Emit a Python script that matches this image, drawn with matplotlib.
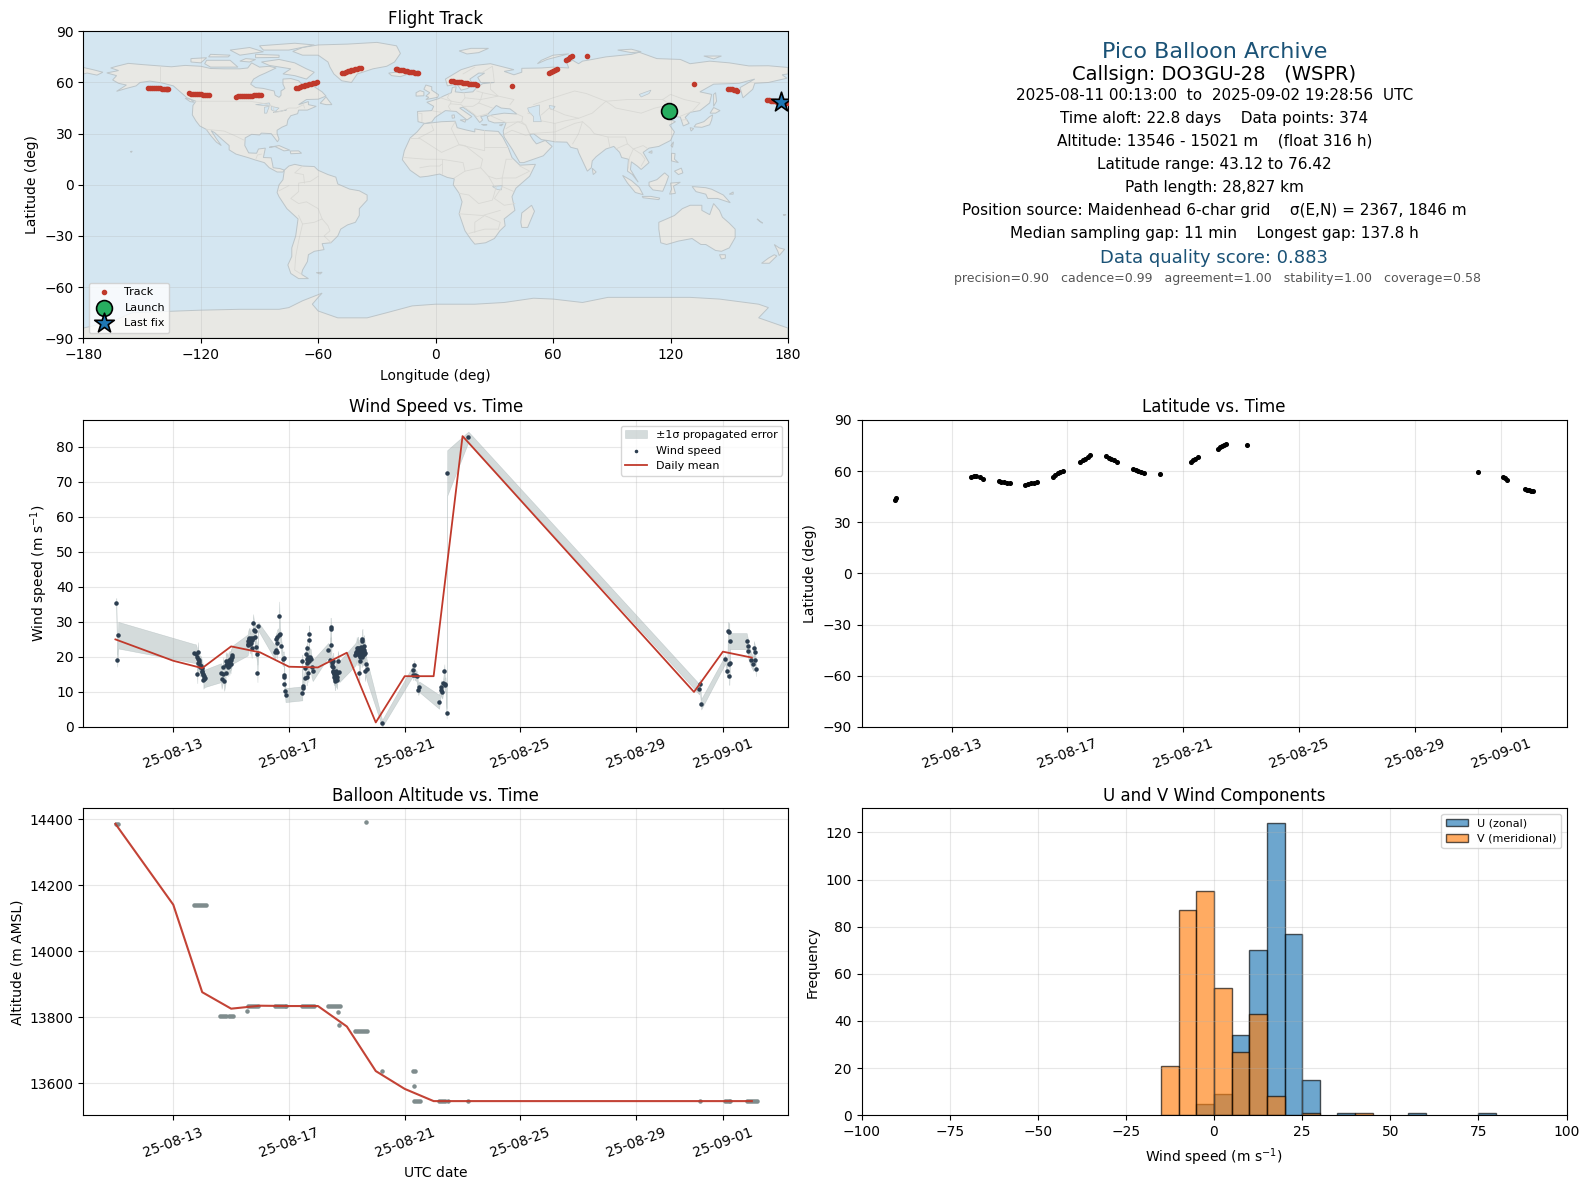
import datetime
import matplotlib
matplotlib.use('Agg')
import matplotlib.pyplot as plt
import matplotlib.dates as mdates
import numpy as np

# all days below are counted from 1 August 2025 (32 = 1 September)

# flight track
track_lon = [-147, -146, -145, -144, -143, -142, -141, -140, -139, -138, -137, -136.5,
             -126, -125, -124, -123, -122, -121, -120, -119, -118, -117, -116,
             -102, -101, -100, -99, -98, -97, -96, -95, -94, -93, -92, -91, -90, -89,
             -71.5, -70.5, -69.5, -68.5, -67.5, -66.5, -65.5, -64.5, -63.5, -62.5, -61.5, -60.5,
             -48, -47, -46, -45, -44, -43, -42, -41, -40, -39, -38,
             -20.5, -19.5, -18.5, -17.5, -16.5, -15.5, -14.5, -13.5, -12.5, -11.5, -10.5, -9.5, -9,
             8, 9, 10, 11, 12, 13, 14, 15, 16, 17, 18, 19, 20, 21,
             38.9,
             58, 59, 60, 61, 62,
             66.5, 67.5, 68.5, 69.5,
             77.3, 132,
             149.5, 150.5, 151.5, 152.5, 153.5, 154.2,
             169.5, 170.5, 171.5, 172.5, 173.5, 174.5, 175.5, 176.5, 177.5, 178.5, 179.5]
track_lat = [56.6, 56.7, 56.7, 56.6, 56.6, 56.5, 56.5, 56.4, 56.3, 56.2, 56.1, 56,
             53.6, 53.5, 53.5, 53.4, 53.2, 53.1, 53, 52.9, 52.8, 52.6, 52.5,
             51.7, 51.8, 51.9, 52, 52.1, 52.1, 52.2, 52.2, 52.3, 52.4, 52.4, 52.5, 52.6, 52.7,
             56.6, 57, 57.4, 57.8, 58.1, 58.4, 58.7, 59, 59.3, 59.6, 59.8, 60,
             65.4, 65.8, 66.2, 66.6, 67, 67.3, 67.6, 67.8, 68, 68.2, 68.3,
             68.1, 67.8, 67.6, 67.3, 67.1, 66.9, 66.7, 66.4, 66.2, 66, 65.8, 65.6, 65.4,
             60.9, 60.7, 60.5, 60.3, 60.2, 60, 59.8, 59.7, 59.5, 59.3, 59.2, 59, 58.9, 58.7,
             57.8,
             65.4, 66, 66.6, 67.2, 67.7,
             73.2, 74, 74.8, 75.4,
             75.3, 59.1,
             56.2, 56.1, 55.9, 55.7, 55.5, 55.2,
             49.7, 49.5, 49.3, 49.1, 48.9, 48.8, 48.6, 48.4, 48.2, 48, 47.8]
launch_lon, launch_lat = 119, 43.3
last_lon, last_lat = 176.5, 48.8

# wind speed, one row per burst of fixes
wind_day = [11.03, 11.06, 11.10,
            13.71, 13.78, 13.81, 13.83, 13.86, 13.86, 13.90, 13.94, 13.98, 14.01, 14.04, 14.04, 14.07, 14.09,
            14.65, 14.67, 14.71, 14.73, 14.76, 14.81, 14.81, 14.84, 14.90, 14.94, 14.96, 14.99, 15.02, 15.04,
            15.57, 15.59, 15.63, 15.65, 15.71, 15.71, 15.76, 15.79, 15.82, 15.83, 15.86, 15.90, 15.91, 15.94,
            16.51, 16.54, 16.55, 16.57, 16.59, 16.59, 16.65, 16.66, 16.69, 16.73, 16.78, 16.82, 16.84, 16.84, 16.84, 16.87, 16.88,
            17.46, 17.46, 17.47, 17.49, 17.54, 17.55, 17.59, 17.61, 17.61, 17.63, 17.67, 17.67, 17.70, 17.70, 17.70, 17.75, 17.78, 17.82,
            18.36, 18.41, 18.44, 18.44, 18.46, 18.47, 18.51, 18.53, 18.53, 18.55, 18.59, 18.59, 18.62, 18.65, 18.67, 18.69, 18.74,
            19.28, 19.34, 19.36, 19.39, 19.43, 19.45, 19.45, 19.47, 19.51, 19.53, 19.54, 19.57, 19.59, 19.62, 19.62, 19.66, 19.68,
            20.22,
            21.30, 21.30, 21.33, 21.35, 21.41, 21.47, 21.50,
            22.19, 22.25, 22.27, 22.30, 22.34, 22.37, 22.39, 22.41, 22.45,
            22.47,
            23.20,
            31.18, 31.20, 31.25,
            32.08, 32.15, 32.18, 32.22, 32.22, 32.22, 32.24, 32.25,
            32.82, 32.86, 32.88, 32.98, 33.05, 33.07, 33.10, 33.12, 33.14,
            # fixes inside the dense parts of the bursts
            13.84, 13.88, 13.92, 13.96, 14.00, 14.03, 14.06,
            14.86, 14.88, 14.92, 14.95, 14.98, 15.00,
            15.58, 15.61, 15.64, 15.67, 15.69, 15.74,
            17.62, 17.65, 17.69, 17.72,
            18.49, 18.52, 18.54, 18.57, 18.58, 18.60, 18.61, 18.63, 18.64, 18.66,
            19.31, 19.33, 19.37, 19.38, 19.41, 19.42, 19.44, 19.46, 19.48, 19.49, 19.50, 19.52, 19.55, 19.56, 19.58, 19.60, 19.61]
wind_speed = [35.3, 19.0, 26.2,
              21.0, 20.9, 20.1, 15.0, 21.5, 18.2, 19.1, 17.7, 16.8, 15.8, 14.9, 13.4, 13.6, 13.9,
              15.5, 13.6, 15.1, 17.2, 13.0, 15.3, 18.7, 17.7, 18.2, 17.5, 19.1, 19.6, 20.1, 20.6,
              23.4, 24.4, 25.3, 24.4, 22.5, 24.9, 29.6, 27.7, 25.8, 27.5, 22.8, 20.9, 15.3, 28.7,
              21.3, 22.0, 25.0, 23.9, 21.5, 25.8, 26.3, 31.6, 26.5, 23.2, 19.4, 19.6, 14.9, 14.2, 12.2, 10.3, 9.1,
              9.6, 18.7, 11.0, 11.8, 13.9, 16.8, 20.9, 14.4, 18.2, 22.5, 15.3, 20.1, 26.5, 24.7, 18.7, 19.3, 17.2, 16.1,
              22.0, 19.1, 28.4, 28.0, 23.3, 18.2, 15.8, 17.2, 18.7, 14.4, 13.0, 14.9, 13.9, 13.4, 15.3, 18.7, 15.8,
              20.6, 22.5, 21.8, 21.5, 15.3, 21.0, 18.7, 22.0, 20.1, 24.4, 25.0, 21.5, 23.2, 21.0, 16.1, 17.9, 16.5,
              1.0,
              16.3, 14.9, 17.6, 14.9, 14.6, 10.6, 11.5,
              7.2, 11.3, 10.6, 10.1, 12.5, 15.9, 12.0, 12.2, 3.9,
              72.5,
              82.8,
              10.8, 12.3, 6.5,
              19.3, 16.1, 27.5, 27.0, 18.0, 14.5, 18.2, 24.5,
              24.5, 23.0, 21.6, 19.1, 18.0, 22.5, 21.5, 19.0, 16.5,
              19.5, 18.5, 17.0, 17.5, 16.0, 15.2, 14.5,
              18.5, 17.2, 19.0, 18.3, 18.0, 19.0,
              23.8, 25.0, 23.8, 25.5, 24.0, 25.5,
              19.5, 18.8, 19.6, 20.0,
              17.5, 16.0, 15.5, 15.0, 13.8, 14.2, 16.0, 14.6, 15.8, 14.2,
              21.0, 21.5, 20.8, 22.6, 20.5, 22.0, 20.0, 22.6, 20.9, 21.5, 22.8, 21.0, 20.5, 22.3, 20.8, 21.5, 22.0]
wind_err = [1.5, 1.8, 3.8,
            2.7, 2.7, 2.7, 2.5, 2.7, 2.7, 2.7, 2.6, 2.6, 2.6, 2.5, 2.5, 2.5, 2.5,
            2.7, 2.7, 2.7, 2.7, 2.7, 2.7, 2.7, 2.7, 2.7, 2.7, 2.7, 2.7, 2.6, 2.6,
            3.0, 3.0, 3.0, 2.8, 2.8, 2.8, 2.6, 2.5, 2.5, 2.5, 2.5, 2.5, 2.5, 1.2,
            2.0, 2.0, 2.0, 2.0, 2.0, 2.0, 2.0, 4.2, 2.0, 2.0, 2.0, 2.0, 2.0, 2.0, 2.0, 2.0, 2.0,
            2.0, 2.0, 2.0, 2.0, 2.0, 2.5, 2.5, 2.5, 2.5, 2.5, 2.5, 2.5, 2.5, 2.5, 3.0, 3.0, 3.0, 3.0,
            2.0, 2.0, 2.8, 2.8, 2.5, 2.5, 2.5, 2.5, 2.5, 2.5, 2.5, 2.5, 2.5, 2.5, 3.0, 3.0, 3.0,
            3.2, 3.2, 3.2, 3.2, 3.0, 3.0, 3.0, 3.0, 3.0, 3.0, 3.0, 3.0, 3.0, 3.0, 3.0, 3.0, 3.0,
            1.0,
            1.5, 1.5, 1.5, 1.5, 1.5, 1.5, 1.5,
            2.0, 2.0, 2.0, 2.0, 2.0, 2.0, 2.0, 2.0, 1.5,
            6.5,
            1.5,
            1.5, 1.5, 1.5,
            1.2, 2.0, 2.5, 2.5, 2.5, 2.5, 2.3, 2.3,
            2.3, 2.3, 2.3, 2.0, 2.0, 2.0, 2.0, 2.0, 2.0,
            2.6, 2.6, 2.6, 2.6, 2.5, 2.5, 2.5,
            2.7, 2.7, 2.7, 2.7, 2.7, 2.7,
            3.0, 3.0, 2.8, 2.8, 2.8, 2.6,
            2.5, 2.5, 2.5, 2.5,
            2.5, 2.5, 2.5, 2.5, 2.5, 2.5, 2.5, 2.5, 2.5, 2.5,
            3.2, 3.2, 3.2, 3.2, 3.0, 3.0, 3.0, 3.0, 3.0, 3.0, 3.0, 3.0, 3.0, 3.0, 3.0, 3.0, 3.0]

mean_day = [11, 13, 14, 15, 16, 17, 18, 19, 20, 21, 22, 23, 31, 32, 33]
mean_wind = [25.0, 18.9, 16.8, 23.0, 21.3, 17.2, 17.0, 21.2, 1.3, 14.5, 14.5, 83.0, 10.0, 21.5, 19.8]
mean_alt = [14386, 14141, 13876, 13826, 13835, 13834, 13834, 13772, 13637, 13583, 13546, 13546, 13546, 13546, 13546]

# latitude
lat_day = [11.05, 11.08,
           13.69, 13.78, 13.86, 13.97, 14.08,
           14.63, 14.72, 14.82, 14.92, 15.02,
           15.53, 15.63, 15.74, 15.85, 15.95,
           16.50, 16.58, 16.67, 16.76, 16.84,
           17.44, 17.53, 17.62, 17.71, 17.80,
           18.34, 18.43, 18.52, 18.62, 18.72,
           19.27, 19.36, 19.46, 19.56, 19.66,
           20.22,
           21.27, 21.35, 21.42, 21.50,
           22.20, 22.27, 22.34, 22.41, 22.47,
           23.20,
           31.20,
           32.06, 32.13, 32.20,
           32.80, 32.88, 32.96, 33.04, 33.10]
lat_deg = [43.2, 44.0,
           56.7, 57.2, 57.3, 56.7, 55.7,
           54.1, 53.9, 53.6, 53.2, 52.8,
           52.0, 52.3, 52.8, 53.2, 53.5,
           56.5, 57.7, 58.7, 59.6, 60.2,
           65.1, 66.3, 67.3, 68.3, 69.2,
           68.6, 67.9, 67.2, 66.4, 65.5,
           61.2, 60.5, 59.9, 59.4, 59.2,
           58.2,
           65.3, 66.4, 67.4, 68.4,
           73.1, 74.1, 74.9, 75.5, 75.8,
           75.2,
           59.4,
           56.5, 55.8, 54.9,
           49.4, 49.2, 48.9, 48.6, 48.3]

# altitude
alt_day = [11.03, 11.08,
           13.72, 13.79, 13.86, 13.93, 14.00, 14.07, 14.12,
           14.63, 14.70, 14.77, 14.84, 14.91, 14.98, 15.05,
           15.56,
           15.58, 15.65, 15.72, 15.79, 15.86, 15.94,
           16.50, 16.57, 16.64, 16.71, 16.78, 16.85, 16.90,
           17.46, 17.53, 17.60, 17.67, 17.74, 17.81, 17.86,
           18.34, 18.41, 18.48, 18.55, 18.62, 18.69, 18.76,
           18.70, 18.74,
           19.27, 19.34, 19.41, 19.48, 19.55, 19.62, 19.69,
           19.67, 20.22, 21.30, 21.35, 21.33,
           21.33, 21.40, 21.47, 21.52,
           22.20, 22.27, 22.34, 22.41, 22.49, 23.20,
           31.20, 32.07, 32.14, 32.20, 32.25,
           32.83, 32.90, 32.97, 33.04, 33.11, 33.18]
alt_m = [14385, 14385,
         14140, 14140, 14140, 14140, 14140, 14140, 14140,
         13803, 13803, 13803, 13803, 13803, 13803, 13803,
         13818,
         13833, 13833, 13833, 13833, 13833, 13833,
         13834, 13834, 13834, 13834, 13834, 13834, 13834,
         13834, 13834, 13834, 13834, 13834, 13834, 13834,
         13834, 13834, 13834, 13834, 13834, 13834, 13834,
         13815, 13776,
         13758, 13758, 13758, 13758, 13758, 13758, 13758,
         14391, 13636, 13636, 13636, 13591,
         13546, 13546, 13546, 13546,
         13546, 13546, 13546, 13546, 13546, 13546,
         13546, 13546, 13546, 13546, 13546,
         13546, 13546, 13546, 13546, 13546, 13546]

# histogram, left bin edge and count
u_bins = [-5, 0, 5, 10, 15, 20, 25, 35, 55, 75]
u_counts = [5, 9, 34, 70, 124, 77, 15, 1, 1, 1]
v_bins = [-15, -10, -5, 0, 5, 10, 15, 25, 40]
v_counts = [21, 87, 95, 54, 27, 43, 8, 1, 1]

date_ticks = [(2025, 8, 13), (2025, 8, 17), (2025, 8, 21), (2025, 8, 25), (2025, 8, 29), (2025, 9, 1)]

# coastlines, lon/lat
north_america = [(-168,65.6),(-164,66.5),(-162,67),(-166,68.5),(-163,69.5),(-157,71.2),(-150,70.5),(-141,69.7),(-135,69.2),(-128,70),(-120,69.5),(-115,68.2),(-108,68),(-100,68),(-96,68.5),(-94,71.5),(-90,69),(-85,69.5),(-81.5,68.5),(-87,65.5),(-90,64),(-93,62),(-94.5,59),(-92,57),(-88,56.5),(-82.5,55),(-82,52.5),(-80,51.3),(-79,52.5),(-79,55),(-77,56.5),(-78,59),(-78,62),(-74,62.3),(-70,61),(-68,58.5),(-65,60),(-62,57.5),(-58,54.5),(-56,52),(-60,50.2),(-66,50),(-70,47),(-65,48.8),(-65,47),(-61,46),(-65.5,43.8),(-70,43.8),(-70.5,41.7),(-74,40.5),(-75.5,38),(-76,35),(-78.5,33.8),(-81,32),(-81,30),(-80,26.8),(-80.8,25.2),(-82.5,27.8),(-84,30),(-89,30.3),(-90,29.2),(-94,29.6),(-97.3,27.5),(-97.5,23),(-95.5,18.7),(-91.5,18.5),(-90.5,21),(-87,21.5),(-88,16),(-84,15.8),(-83.3,12),(-83,10),(-79.5,9.5),(-77.3,8.6),(-78,7.5),(-81,7.5),(-85,10),(-87.5,13),(-92,14.5),(-96,16),(-102,18),(-105.5,20.5),(-105.5,23),(-109,26.5),(-112.8,30.5),(-114.7,31.8),(-112,27),(-109.5,23),(-112,25),(-115,29),(-117.2,32.5),(-120.5,34.5),(-122.5,37.5),(-124.3,41),(-124,46.5),(-122.5,49),(-127,51),(-130.5,54.5),(-134,58),(-140,59.8),(-146,60.8),(-151,60),(-153,58),(-158,56.5),(-163,54.8),(-158,58.5),(-162,59.5),(-165,61.5),(-163,64)]
greenland = [(-73,78.2),(-68,80.5),(-60,82),(-45,82.5),(-30,83.5),(-20,81.5),(-18,77),(-21,72),(-25,69.5),(-32,68),(-40,65),(-43,60),(-48,61),(-52,65),(-54,69),(-55,72),(-60,76),(-68,76)]
south_america = [(-77.3,8.6),(-75,11),(-72,12),(-68,11),(-62,10.7),(-60,8.5),(-55,6),(-51,4.5),(-50,0.5),(-44,-2.5),(-39,-3.5),(-35,-6),(-35,-9),(-39,-14),(-39,-18),(-41,-22),(-45,-23.5),(-48.5,-26),(-50,-30),(-53.5,-34),(-58,-34.5),(-57,-38),(-62,-39),(-65,-41),(-65.5,-45),(-68,-50),(-68.5,-52.5),(-65,-55),(-70,-55),(-74,-52),(-75.5,-47),(-73.5,-42),(-73.5,-37),(-71.5,-30),(-70.3,-20),(-76,-14),(-80,-7),(-81,-4.5),(-80,0),(-78,3),(-77.5,7)]
africa = [(-6,35.8),(3,37),(10,37.3),(11,33.5),(15,32.3),(20,31),(20,32.8),(25,31.8),(32,31.3),(34.3,28),(37,22),(39,16),(43,11.5),(51,12),(48,5),(41,-2),(39,-7),(40.5,-15),(35,-20),(35.5,-24),(32.8,-27),(30,-31.5),(25.5,-34),(20,-34.8),(18,-32),(15,-27),(12,-17),(13.5,-10),(12,-5),(9,0),(9.5,3.5),(6,4.3),(2,6.3),(-4,5),(-8,4.5),(-13,8.5),(-17,14.7),(-16,20),(-13,27.5),(-9.5,31)]
eurasia = [(-9,37),(-9.3,43),(-2,43.5),(-1,46),(-4.5,48.4),(1.5,50.5),(4,52),(8,54),(8.5,57),(10.5,57.5),(10,54.5),(14,54),(19,54.5),(21,57),(24,59.3),(30,60),(23,60),(21.5,63),(25,65.5),(22,65.5),(17.5,62),(18.5,59.5),(16.5,56.5),(13,55.5),(11,59),(6,58),(5,62),(13,67.5),(20,70),(28,71),(40,67.5),(35,66.5),(40,64.5),(44,66),(44,68.3),(54,68.5),(60,69),(68,68.5),(67,71.5),(70,73),(73,71),(75,72.5),(80,73.5),(87,75),(100,76.5),(104,77.7),(113,74),(125,73.5),(130,71),(140,72.5),(150,71.5),(160,69.7),(170,69.8),(178,69),(180,68.8),(180,65),(177,64.5),(179.5,62.5),(170,60),(163,59.5),(162,56),(157,51),(155.5,57),(163,62),(155,59.5),(142,59),(135,54.5),(141,53),(140,48),(135,43.5),(130,42.5),(127.5,39.5),(129.5,36),(126.5,34.5),(125,39.7),(121.5,40),(118,39),(122.5,37),(119.5,35),(122,31),(120,26),(114,22.5),(109,21.5),(106,19),(109,13),(105,9),(103,11),(100,13.5),(99.5,9),(103.5,1.5),(100.5,6),(98,8),(98.5,15),(95,16),(94,19),(91,22.5),(87,21),(82,16.5),(80,14),(79.5,10),(77.5,8),(73,19),(72.5,21),(69,22),(67,25),(61,25.2),(57,26),(54,26.5),(50,30),(48,29.5),(50,26),(51.5,24),(56,26),(59.5,22.5),(55,17),(45,13),(43,13),(39,21),(35,28),(34.5,31.5),(36,36.5),(30,36.3),(27,37.5),(26.3,40),(29,41),(35,42),(41.5,41.5),(38,44.5),(33.5,45),(31,46.5),(28,43),(26,40.7),(23,40),(24,38),(22.5,36.5),(19.5,41),(14,45.5),(12.3,45),(18.5,40),(16,38),(10.5,43),(5,43.5),(3,42),(-0.3,39.5),(-2,36.8),(-5.5,36)]
chukotka = [(-180,68.8),(-175,67.5),(-170,66),(-173,64.3),(-178,65.5),(-180,65)]
australia = [(114,-22),(122,-18),(126,-14),(130,-12),(136,-12),(136,-15),(140,-17.5),(142,-11),(145,-15),(146.5,-19),(150,-22.5),(153,-26),(153,-31),(150,-37),(146,-39),(143,-38.5),(138,-35),(135.5,-35),(131,-31.5),(124,-33),(118,-35),(115,-34),(114,-26)]
antarctica = [(-180,-84),(-165,-80),(-155,-75),(-120,-73.5),(-100,-73),(-80,-73),(-75,-72),(-68,-68),(-58,-63.5),(-60,-66),(-63,-70),(-60,-74),(-50,-78),(-35,-78),(-25,-75),(-12,-71),(0,-70),(20,-70),(35,-69),(50,-66.5),(60,-67),(75,-69),(88,-66),(110,-66),(130,-66),(145,-67),(165,-70),(170,-72),(165,-78),(180,-84),(180,-90),(-180,-90)]
islands = [
    [(-5,50),(1,51.3),(1.5,52.8),(-2,55.5),(-2,57.5),(-5,58.5),(-6,56),(-3,54),(-5,52),(-3.5,51.3)],
    [(-10,52),(-6,52.2),(-6,54.5),(-8,55.2),(-10,54)],
    [(-24,65.5),(-18,66.3),(-14,65),(-18,63.4),(-22.5,64)],
    [(130.5,31.5),(131.8,33),(130,33.5)],
    [(132,34),(136,33.7),(140,35.2),(141,38),(141.5,41),(140,40),(137,37),(133,35.5)],
    [(140.2,42),(143,42),(145.3,43.5),(142,45.3)],
    [(142,46),(143.5,49),(143,54),(142,53)],
    [(44,-25),(47,-25),(50.5,-15.5),(49,-12),(44,-16.5),(43.5,-22)],
    [(173,-41),(174.3,-41.7),(170.5,-46),(166.5,-46),(170,-43)],
    [(173,-35),(175.5,-37),(178.3,-37.8),(175.5,-41.5),(174.8,-39)],
    [(145,-41),(148,-41),(148,-43),(146,-43.5)],
    [(95.5,5.5),(100,2.5),(104,-1.5),(106,-5.8),(102,-4.5),(98,1)],
    [(105.5,-6.8),(110,-6.8),(114.5,-7.8),(114,-8.7),(106,-7.6)],
    [(109,1.5),(113,3),(117,7),(119,5),(117.8,1),(116,-3.8),(111,-3),(109,-0.5)],
    [(119.5,-5.5),(120.5,-2.5),(120,1),(125,1.5),(121.5,-0.8),(122.5,-5)],
    [(131,-1),(138,-1.7),(141,-2.6),(147,-6),(150.5,-10.5),(144,-8),(139,-8),(138,-5.5),(133,-4)],
    [(120.5,18.5),(122.3,18.3),(122,15),(124,13),(120.5,14)],
    [(122,8),(125.5,9.8),(126.3,7),(124,6)],
    [(120.2,23),(121.5,25.2),(121,22)],
    [(108.8,19),(110.5,20),(110.5,18.5)],
    [(80,9.7),(82,7.5),(80.5,6)],
    [(-85,22),(-80,23),(-74.5,20.3),(-77.5,19.9),(-82,22.4)],
    [(-74.3,19.8),(-70,19.9),(-68.5,18.5),(-74,18.2)],
    [(-59,47.8),(-56,51.5),(-53,47),(-56,47)],
    [(-128,50.8),(-125,50),(-123.5,48.4),(-125.5,48.8)],
    [(-80,73.5),(-72,71.5),(-66,68),(-62,66),(-66,62),(-72,64),(-78,65),(-74,68),(-85,70),(-89,72)],
    [(-117,73),(-105,73),(-101,69),(-115,69),(-118,71)],
    [(-125,74),(-117,74.5),(-120,71.5),(-125,72)],
    [(-92,76.5),(-80,76),(-80,74.7),(-92,74.5)],
    [(-88,79),(-75,79),(-62,82),(-72,83),(-90,81.5)],
    [(-105,79),(-95,80.5),(-88,78),(-100,76)],
    [(-115,76.5),(-105,76),(-106,75),(-116,75)],
    [(-97,74),(-92,73.5),(-95,72),(-100,72.5)],
    [(12,78.5),(18,80),(27,80),(22,77.5),(16,76.7)],
    [(52,71),(57,73.5),(68,76.8),(60,76),(54,73)],
    [(93,79),(100,79.5),(105,78),(100,77.5)],
    [(137,75.5),(146,75.5),(142,73.8)],
    [(8.5,39),(9.7,39.3),(9.5,41),(8.3,40.8)],
    [(12.5,38),(15.5,38.2),(15,36.7)],
    [(23.5,35.4),(26.3,35.2),(24.5,34.9)],
    [(32.5,35),(34.5,35.6),(33.5,34.6)],
    [(-61,-51.5),(-58,-51.3),(-59,-52.3)],
    [(-156,19.5),(-155,19.7),(-155.5,19)],
    [(165,-21),(167,-22.5),(164.2,-20)],
    [(178,-18),(179,-17.5),(177.5,-17.5)],
    [(150,-5.5),(152,-4.2),(152,-5.5)],
]
lakes = [
    [(47,45),(53,46.8),(53,42),(54,37),(50,37),(50,40),(47.5,43)],
    [(-92,47),(-85,48),(-84.5,46.5),(-88,46.5)],
    [(-87.5,45.5),(-85,46),(-86.3,42),(-87.5,42)],
    [(-84,46),(-80,45),(-82,43),(-84,44)],
    [(-83,42.5),(-79,43),(-76,44),(-79.5,43.2)],
    [(58,46.5),(61,46),(60,44),(58.5,44.5)],
    [(29,-1),(34,-0.5),(33.5,-3),(31.5,-2.8)],
    [(104,53),(110,55.5),(109,53.5),(105,51.5)],
]
borders = [
    [(-141,69.7),(-141,60)],
    [(-123,49),(-95,49),(-89,48),(-83,46),(-82.5,42.5),(-79,43),(-75,45),(-71,45),(-67.5,47),(-67,45)],
    [(-117,32.5),(-108,31.5),(-103,29),(-97.5,26)],
    [(-92,14.7),(-91,17.5),(-89,18)],
    [(-70,-18),(-68,-23),(-70,-33),(-71.5,-42),(-72,-50),(-68.5,-52.5)],
    [(-60,5),(-64,2),(-70,1),(-70,-4),(-74,-8),(-70,-11),(-66,-10),(-60,-14),(-58,-20),(-55,-24),(-54,-27),(-57,-30),(-53.5,-33.8)],
    [(-68,11),(-72,7),(-67.5,6),(-67,1)],
    [(-75,-0.5),(-80,-3.5)],
    [(-58,-20),(-62,-22),(-68,-23)],
    [(-8.5,27.5),(-13,27.5)],
    [(-8.5,27.5),(3,19),(12,23.5),(25,20),(25,31.8)],
    [(25,22),(37,22)],
    [(-2,35),(-1,32),(-8.5,27.5)],
    [(10,37),(8,33),(12,23.5),(15,23),(24,15),(23,10),(27,5),(31,3.5),(34,4),(36,15),(39,15)],
    [(-16,16),(-5,15),(3,15),(14,13),(15,8),(9.5,4)],
    [(3,15),(3,6.3)],
    [(-8,10),(-3,11),(2,11),(3,12)],
    [(15,8),(23,10)],
    [(34,4),(41,4),(48,8),(43,11)],
    [(34,4),(34,-1),(40,-4)],
    [(30,-1),(27,5)],
    [(12,-5),(17,-6),(22,-11),(29,-9),(31,-1)],
    [(34,-1),(30,-8),(35,-12),(40.5,-11)],
    [(12,-17),(24,-18),(33,-15)],
    [(20,-28),(20,-22),(25,-18),(33,-22),(32,-26)],
    [(17,-28.5),(25,-26),(32,-26)],
    [(-1.5,43.3),(3,42.5)],
    [(-9,42),(-7,41.8),(-7,37)],
    [(2.5,51),(8,49),(7.5,47.5),(6.5,46),(7.5,44)],
    [(7,53.5),(6,51),(8,49),(13,48),(15,51),(14.5,54)],
    [(15,51),(23,50),(24,54),(21,55)],
    [(7.5,47.5),(13,47),(14,46),(19,46),(22,48),(23,50),(32,52),(40,50),(38,47)],
    [(14,46),(19,42),(21,40),(26,41.5)],
    [(22,48),(29,45)],
    [(24,54),(32,52),(28,56),(28,60)],
    [(24,66),(29,69.5),(30,60)],
    [(14,65),(20,69)],
    [(26,41.5),(36,36.5),(44,37),(44.5,40),(41.5,41.5)],
    [(36,33),(42,37),(46,35),(48,30)],
    [(34.9,29.5),(39,32),(46,29),(48,29.5)],
    [(44,37),(46,35),(48,30),(61,31),(61,36),(54,37.5)],
    [(61,25),(61,31),(71,36),(75,37),(73,30),(70,24)],
    [(47,42),(49,41.5)],
    [(50,47),(60,51),(71,55),(77,53.5),(87,49),(98,50),(106,50),(116,50),(120,53),(127,50),(135,48),(131,43)],
    [(54,41),(58,45),(66,41),(73,39),(80,42),(87,49)],
    [(61,36),(66,37.5),(73,39)],
    [(87,49),(92,45),(105,42),(112,45),(120,47),(116,50)],
    [(75,37),(79,33),(81,30),(88,28),(97,28),(98,24),(101,21),(106,23),(108,21.5)],
    [(88,28),(89,22)],
    [(92,21),(98,24)],
    [(98.5,10),(99,16),(101,21),(105,18),(107,15),(105,11)],
    [(124.5,40),(130,42.5)],
    [(126,38),(128.5,38.3)],
]

W, H = 1590.0, 1189.0


def aug(days):
    # day numbers to matplotlib dates
    base = mdates.date2num(datetime.datetime(2025, 8, 1))
    return base + np.array(days, dtype=float) - 1


def box(left, top, right, bottom):
    return fig.add_axes([left / W, 1 - bottom / H, (right - left) / W, (bottom - top) / H])


def date_axis(ax):
    ax.set_xlim(aug(9.89), aug(34.25))
    ax.set_xticks([mdates.date2num(datetime.datetime(*d)) for d in date_ticks])
    ax.xaxis.set_major_formatter(mdates.DateFormatter('%y-%m-%d'))
    ax.tick_params(axis='x', labelrotation=20)
    ax.grid(True, alpha=0.3)


fig = plt.figure(figsize=(W / 100, H / 100), dpi=100)

L1, R1, L2, R2 = 83.3, 788, 861.5, 1566.5

# map
ax = box(L1, 31.3, R1, 338.3)
ax.set_facecolor('#d4e6f1')
land_color = '#e8e8e4'
coast_color = '#bcc5c9'
for poly in [north_america, greenland, south_america, africa, eurasia, chukotka, australia, antarctica] + islands:
    xy = np.array(poly)
    ax.fill(xy[:, 0], xy[:, 1], facecolor=land_color, edgecolor=coast_color, linewidth=0.7, zorder=1)
for poly in lakes:
    xy = np.array(poly)
    ax.fill(xy[:, 0], xy[:, 1], facecolor='#d4e6f1', edgecolor=coast_color, linewidth=0.5, zorder=1.1)
for line in borders:
    xy = np.array(line)
    ax.plot(xy[:, 0], xy[:, 1], color='#d9d9d5', linewidth=0.6, zorder=1.2)
ax.scatter(track_lon, track_lat, s=9, color='#c0392b', zorder=3, label='Track')
ax.scatter([launch_lon], [launch_lat], s=130, color='#27ae60', edgecolor='black', linewidth=1.2, zorder=4, label='Launch')
ax.scatter([last_lon], [last_lat], s=220, marker='*', color='#1f77b4', edgecolor='black', linewidth=1.2, zorder=4, label='Last fix')
ax.set_xlim(-180, 180)
ax.set_ylim(-90, 90)
ax.set_xticks(range(-180, 181, 60))
ax.set_yticks(range(-90, 91, 30))
ax.grid(True, alpha=0.3, linewidth=0.6)
ax.set_xlabel('Longitude (deg)', labelpad=5)
ax.set_ylabel('Latitude (deg)')
ax.set_title('Flight Track', fontsize=12, pad=5)
ax.legend(loc='lower left', fontsize=8)

# text block
info = [(51.5, 1214.5, 'Pico Balloon Archive', 16, '#1a5276'),
        (74.8, 1214.5, 'Callsign: DO3GU-28   (WSPR)', 14, 'black'),
        (95.5, 1214.5, '2025-08-11 00:13:00  to  2025-09-02 19:28:56  UTC', 11, 'black'),
        (118.5, 1214.5, 'Time aloft: 22.8 days    Data points: 374', 11, 'black'),
        (141.5, 1214.5, 'Altitude: 13546 - 15021 m    (float 316 h)', 11, 'black'),
        (164.5, 1214.5, 'Latitude range: 43.12 to 76.42', 11, 'black'),
        (187.5, 1214.5, 'Path length: 28,827 km', 11, 'black'),
        (210.5, 1214.5, 'Position source: Maidenhead 6-char grid    σ(E,N) = 2367, 1846 m', 11, 'black'),
        (233.5, 1214.5, 'Median sampling gap: 11 min    Longest gap: 137.8 h', 11, 'black'),
        (258, 1214.5, 'Data quality score: 0.883', 13, '#1a5276'),
        (278.5, 1218, 'precision=0.90   cadence=0.99   agreement=1.00   stability=1.00   coverage=0.58', 9, '#555555')]
for y, x, txt, size, col in info:
    fig.text(x / W, 1 - y / H, txt, fontsize=size, color=col, ha='center', va='center')

# wind speed
ax = box(L1, 420, R1, 727)
order = np.argsort(wind_day, kind='stable')
wd = aug(wind_day)[order]
ws = np.array(wind_speed)[order]
we = np.array(wind_err)[order]
ax.fill_between(wd, ws - we, ws + we, color='#95a5a6', alpha=0.4, linewidth=0.4, label='±1σ propagated error')
ax.scatter(wd, ws, s=5, color='#2c3e50', label='Wind speed', zorder=3)
ax.plot(aug(mean_day), mean_wind, color='#c0392b', linewidth=1.3, label='Daily mean', zorder=4)
date_axis(ax)
ax.set_ylim(0, 87.6)
ax.set_ylabel('Wind speed (m s$^{-1}$)')
ax.set_title('Wind Speed vs. Time', fontsize=12)
ax.legend(loc='upper right', fontsize=8, markerscale=0.7)

# latitude
ax = box(L2, 420, R2, 727)
ax.scatter(aug(lat_day), lat_deg, s=7, color='black', zorder=3)
date_axis(ax)
ax.set_ylim(-90, 90)
ax.set_yticks(range(-90, 91, 30))
ax.set_ylabel('Latitude (deg)')
ax.set_title('Latitude vs. Time', fontsize=12)

# altitude
ax = box(L1, 808.3, R1, 1115.3)
ax.scatter(aug(alt_day), alt_m, s=5, color='#7f8c8d', zorder=3)
ax.plot(aug(mean_day), mean_alt, color='#c0392b', linewidth=1.5, alpha=0.95, zorder=4)
date_axis(ax)
ax.set_ylim(13503, 14433)
ax.set_yticks(range(13600, 14401, 200))
ax.set_xlabel('UTC date', labelpad=5)
ax.set_ylabel('Altitude (m AMSL)')
ax.set_title('Balloon Altitude vs. Time', fontsize=12, pad=5)

# components histogram
ax = box(L2, 808.3, R2, 1115.3)
ax.bar(u_bins, u_counts, width=5, align='edge', color='#1f77b4', alpha=0.65, edgecolor='black', linewidth=1, label='U (zonal)')
ax.bar(v_bins, v_counts, width=5, align='edge', color='#ff7f0e', alpha=0.65, edgecolor='black', linewidth=1, label='V (meridional)')
ax.set_xlim(-100, 100)
ax.set_ylim(0, 130.2)
ax.grid(True, alpha=0.3)
ax.set_xlabel('Wind speed (m s$^{-1}$)', labelpad=5)
ax.set_ylabel('Frequency')
ax.set_title('U and V Wind Components', fontsize=12, pad=5)
ax.legend(loc='upper right', fontsize=8)

fig.savefig('out.png', dpi=100)
